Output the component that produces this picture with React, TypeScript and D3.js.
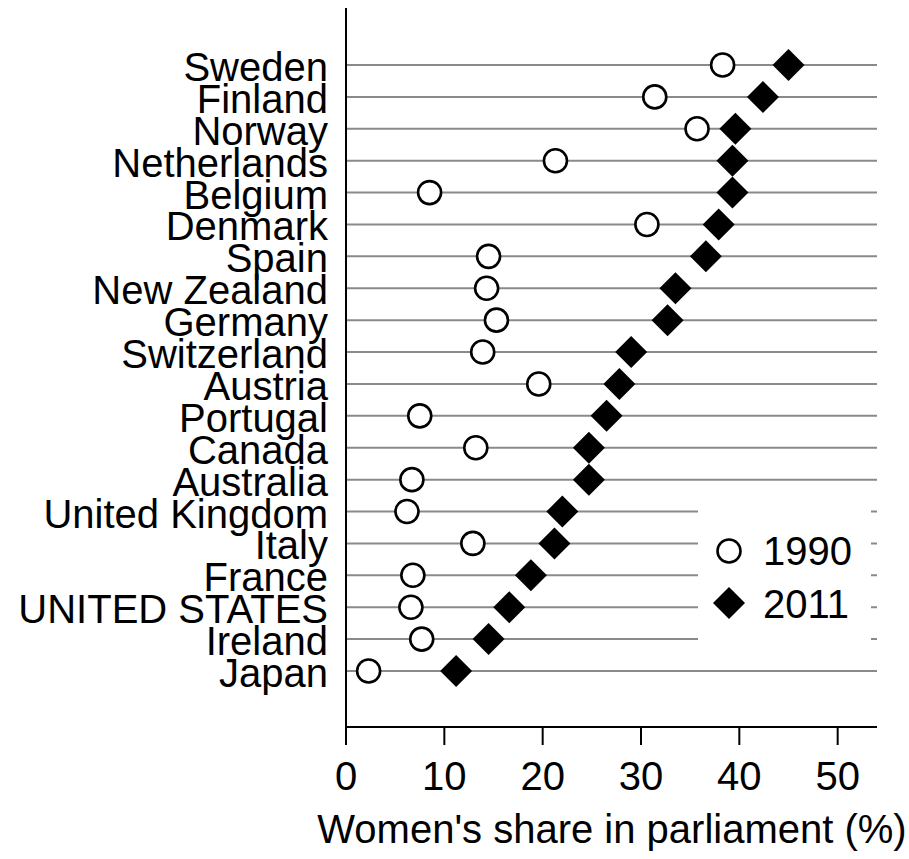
import React from "react";
import * as d3 from "d3";

const countries = [
  "Sweden", "Finland", "Norway", "Netherlands", "Belgium", "Denmark", "Spain",
  "New Zealand", "Germany", "Switzerland", "Austria", "Portugal", "Canada",
  "Australia", "United Kingdom", "Italy", "France", "UNITED STATES", "Ireland", "Japan",
];
const values1990 = [38.3, 31.4, 35.7, 21.3, 8.5, 30.6, 14.5, 14.3, 15.3, 13.9, 19.6, 7.5, 13.2, 6.7, 6.2, 12.9, 6.8, 6.6, 7.7, 2.3];
const values2011 = [45.0, 42.4, 39.6, 39.3, 39.3, 37.9, 36.6, 33.5, 32.7, 29.0, 27.8, 26.5, 24.7, 24.7, 22.0, 21.2, 18.8, 16.6, 14.5, 11.2];
const xTicks = [0, 10, 20, 30, 40, 50];
const legendLabels = ["1990", "2011"];
const xTitle = "Women's share in parliament (%)";

const W = 909, H = 859;
const FONT = "Liberation Sans, Arial, sans-serif";
const FS = 40;

export default function App() {
  const x = d3.scaleLinear().domain([0, 54]).range([346, 877]);
  const y = d3.scalePoint<string>().domain(countries).range([65, 671]);
  const axisY = 727;
  const diamond = (cx: number, cy: number, r: number) =>
    `M${cx},${cy - r}L${cx + r},${cy}L${cx},${cy + r}L${cx - r},${cy}Z`;
  const legX = 729, legY1 = 551, legY2 = 603;
  return (
    <div style={{ position: "absolute", left: 0, top: 0 }}>
      <svg width={W} height={H} style={{ display: "block", background: "#fff" }} fontFamily={FONT}>
        <rect x={0} y={0} width={W} height={H} fill="#fff" />
        {countries.map((c) => (
          <line key={"g" + c} x1={x(0)} x2={x(54)} y1={y(c)} y2={y(c)} stroke="#8a8a8a" strokeWidth={2} />
        ))}
        {countries.map((c) => (
          <text key={"l" + c} x={328} y={(y(c) as number) + 16} textAnchor="end" fontSize={FS} fill="#000">{c}</text>
        ))}
        {countries.map((c, i) => (
          <circle key={"c" + c} cx={x(values1990[i])} cy={y(c)} r={11.5} fill="#fff" stroke="#000" strokeWidth={2.6} />
        ))}
        {countries.map((c, i) => (
          <path key={"d" + c} d={diamond(x(values2011[i]), y(c) as number, 16)} fill="#000" />
        ))}
        {/* legend */}
        <rect x={698} y={497} width={173} height={158} fill="#fff" />
        <circle cx={legX} cy={legY1} r={11.5} fill="#fff" stroke="#000" strokeWidth={2.6} />
        <text x={763} y={legY1 + 14} fontSize={FS} fill="#000">{legendLabels[0]}</text>
        <path d={diamond(legX, legY2, 16)} fill="#000" />
        <text x={763} y={legY2 + 15} fontSize={FS} fill="#000">{legendLabels[1]}</text>
        {/* axes */}
        <line x1={x(0)} x2={x(0)} y1={8} y2={axisY + 1} stroke="#000" strokeWidth={2} />
        <line x1={x(0) - 1} x2={x(54)} y1={axisY} y2={axisY} stroke="#000" strokeWidth={2} />
        {xTicks.map((t) => (
          <g key={"t" + t}>
            <line x1={x(t)} x2={x(t)} y1={axisY} y2={axisY + 18} stroke="#000" strokeWidth={2} />
            <text x={x(t)} y={790} textAnchor="middle" fontSize={FS} fill="#000">{t}</text>
          </g>
        ))}
        <text x={612} y={843} textAnchor="middle" fontSize={FS} fill="#000">{xTitle}</text>
      </svg>
    </div>
  );
}
